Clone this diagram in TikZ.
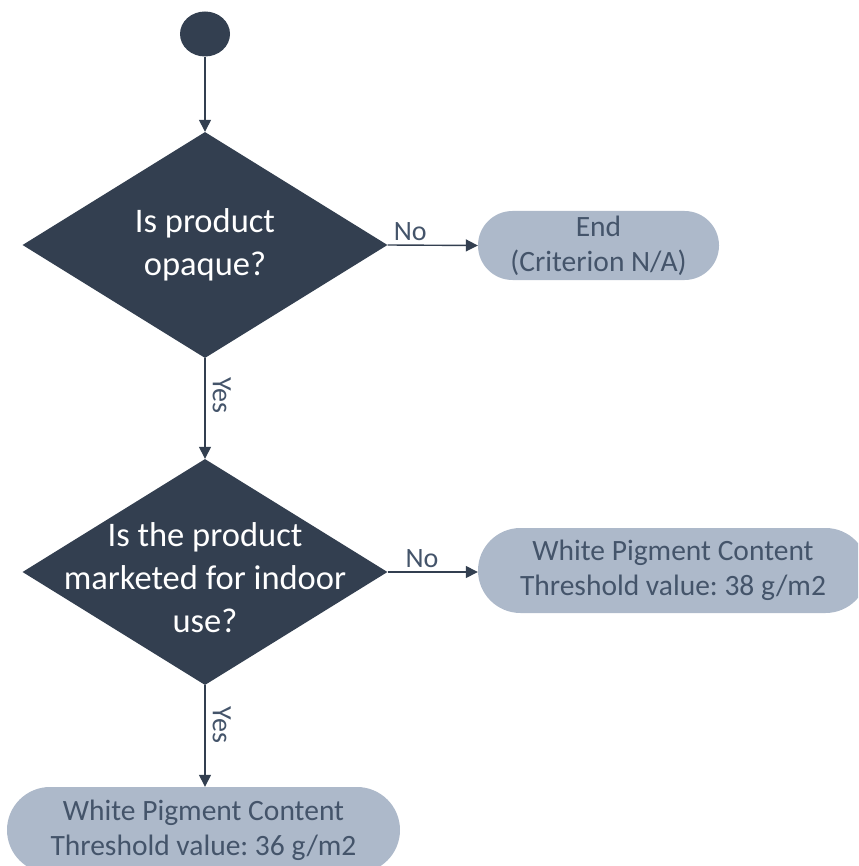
\documentclass[tikz,border=0pt]{standalone}
\usepackage{fontspec}
\setmainfont{Carlito}
\usetikzlibrary{shapes.geometric,arrows.meta}
\definecolor{dk}{HTML}{333F50}
\definecolor{lt}{HTML}{ADB9CA}
\definecolor{txt}{HTML}{44546A}
\frenchspacing
\begin{document}
\begin{tikzpicture}[x=1pt,y=-1pt,
  startnode/.style={ellipse,fill=dk,draw=none,minimum width=50pt,minimum height=45pt,inner sep=0pt},
  decision/.style={diamond,fill=dk,draw=none,minimum width=365pt,minimum height=226pt,inner sep=0pt,aspect=1.615},
  dtext/.style={text=white,align=center,font=\fontsize{34.5}{43}\selectfont,inner sep=0pt},
  terminal/.style={rectangle,fill=lt,draw=none,text=txt,align=center,font=\fontsize{29.5}{35}\selectfont,inner sep=0pt},
  flow/.style={draw=dk,line width=1.4pt,-{Triangle[length=12pt,width=12pt]}},
  elabel/.style={text=txt,font=\fontsize{28}{32}\selectfont,inner sep=4pt},
  yeslabel/.style={elabel,rotate=-90,anchor=south,inner sep=7pt}
]
\useasboundingbox (0,0) rectangle (858,866);
\clip (0,0) rectangle (858,866);

\node[startnode] (start) at (205,34) {};
\node[decision] (d1) at (205,245) {};
\node[dtext] (d1t) at (d1.center) {Is product\\opaque?};
\node[terminal,minimum width=241pt,minimum height=69pt,rounded corners=34.5pt] (endn) at (598.5,245.5) {End\\(Criterion N/A)};
\node[decision] (d2) at (205,572) {};
\node[dtext] (d2t) at (205,578) {Is the product\\marketed for indoor\\use?};
\node[terminal,minimum width=390pt,minimum height=85pt,rounded corners=42.5pt] (b38) at (673,570.5) {White Pigment Content\\Threshold value: 38 g/m2};
\node[terminal,minimum width=393pt,minimum height=86pt,rounded corners=43pt] (b36) at (203.5,830) {White Pigment Content\\Threshold value: 36 g/m2};

\draw[flow] (start) -- (d1.north);
\draw[flow] (d1.east) -- node[elabel,pos=0.25,above]{No} (endn.west);
\draw[flow] (d1.south) -- node[yeslabel,pos=0.37]{Yes} (d2.north);
\draw[flow] (d2.east) -- node[elabel,pos=0.38,above]{No} (d2.east -| b38.west);
\draw[flow] (d2.south) -- node[yeslabel,pos=0.39]{Yes} (d2.south |- b36.north);
\end{tikzpicture}
\end{document}
